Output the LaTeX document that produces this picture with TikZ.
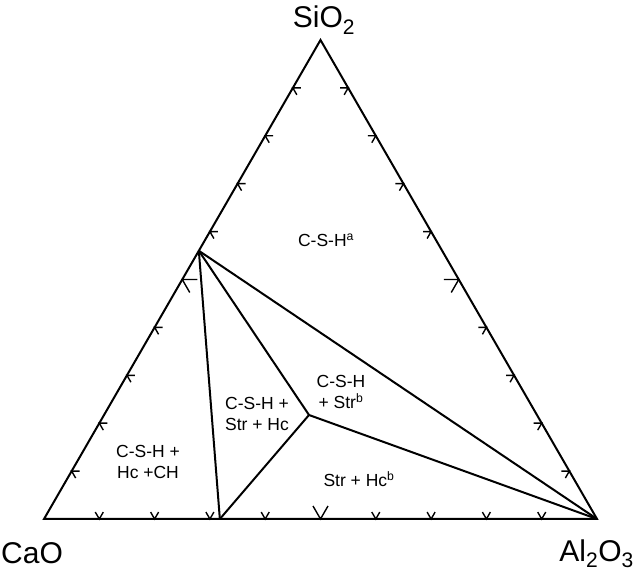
\documentclass[tikz,border=0pt]{standalone}
\usepackage{fontspec}
\setmainfont{Liberation Sans}
\usetikzlibrary{calc}

\begin{document}
\begin{tikzpicture}[
    x=1pt, y=1pt,
    edge/.style={line width=2pt, line join=miter},
    tick/.style={line width=1.4pt},
    phase/.style={font=\fontsize{17.5}{21}\selectfont, align=center, inner sep=0pt},
    oxide/.style={font=\fontsize{30}{36}\selectfont, inner sep=0pt}
]

\useasboundingbox (0,0) rectangle (636,572);

% Corners of the triangle
\coordinate (cao) at (44,53);
\coordinate (al) at (597,53);
\coordinate (si) at (320.5,532);

\draw[edge] (cao) -- (al) -- (si) -- cycle;

% Ticks every 10 %, the middle one larger
\foreach \k in {1,...,9} {
  \pgfmathsetmacro{\len}{ifthenelse(\k==5,15,8)}
  \coordinate (b\k) at ($(cao)!\k/10!(al)$);
  \coordinate (l\k) at ($(cao)!\k/10!(si)$);
  \coordinate (r\k) at ($(al)!\k/10!(si)$);
  \draw[tick] ([shift={(60:\len)}]b\k) -- (b\k) -- ([shift={(120:\len)}]b\k);
  \draw[tick] ([shift={(0:\len)}]l\k) -- (l\k) -- ([shift={(-60:\len)}]l\k);
  \draw[tick] ([shift={(180:\len)}]r\k) -- (r\k) -- ([shift={(240:\len)}]r\k);
}

% Phase boundaries
\coordinate (p) at ($(cao)!0.56!(si)$);
\coordinate (q) at ($(cao)!0.318!(al)$);
\coordinate (r) at (309,157);

\draw[edge] (p) -- (q);
\draw[edge] (p) -- (r);
\draw[edge] (p) -- (al);
\draw[edge] (r) -- (q);
\draw[edge] (r) -- (al);

% Oxide labels
\node[oxide, anchor=base] (silbl) at (324,544) {SiO\textsubscript{2}};
\node[oxide, anchor=base west] (caolbl) at (1,9) {CaO};
\node[oxide, anchor=base east] (allbl) at (634,11) {Al\textsubscript{2}O\textsubscript{3}};

% Phase fields
\node[phase, anchor=base] (csha) at (326,325) {C-S-H\textsuperscript{a}};
\node[phase] (cshstr) at (341,180) {C-S-H\\+ Str\textsuperscript{b}};
\node[phase] (cshstrhc) at (257,158) {C-S-H +\\Str + Hc};
\node[phase] (cshhcch) at (148,110) {C-S-H +\\Hc +CH};
\node[phase, anchor=base] (strhc) at (359,85) {Str + Hc\textsuperscript{b}};

\end{tikzpicture}
\end{document}
